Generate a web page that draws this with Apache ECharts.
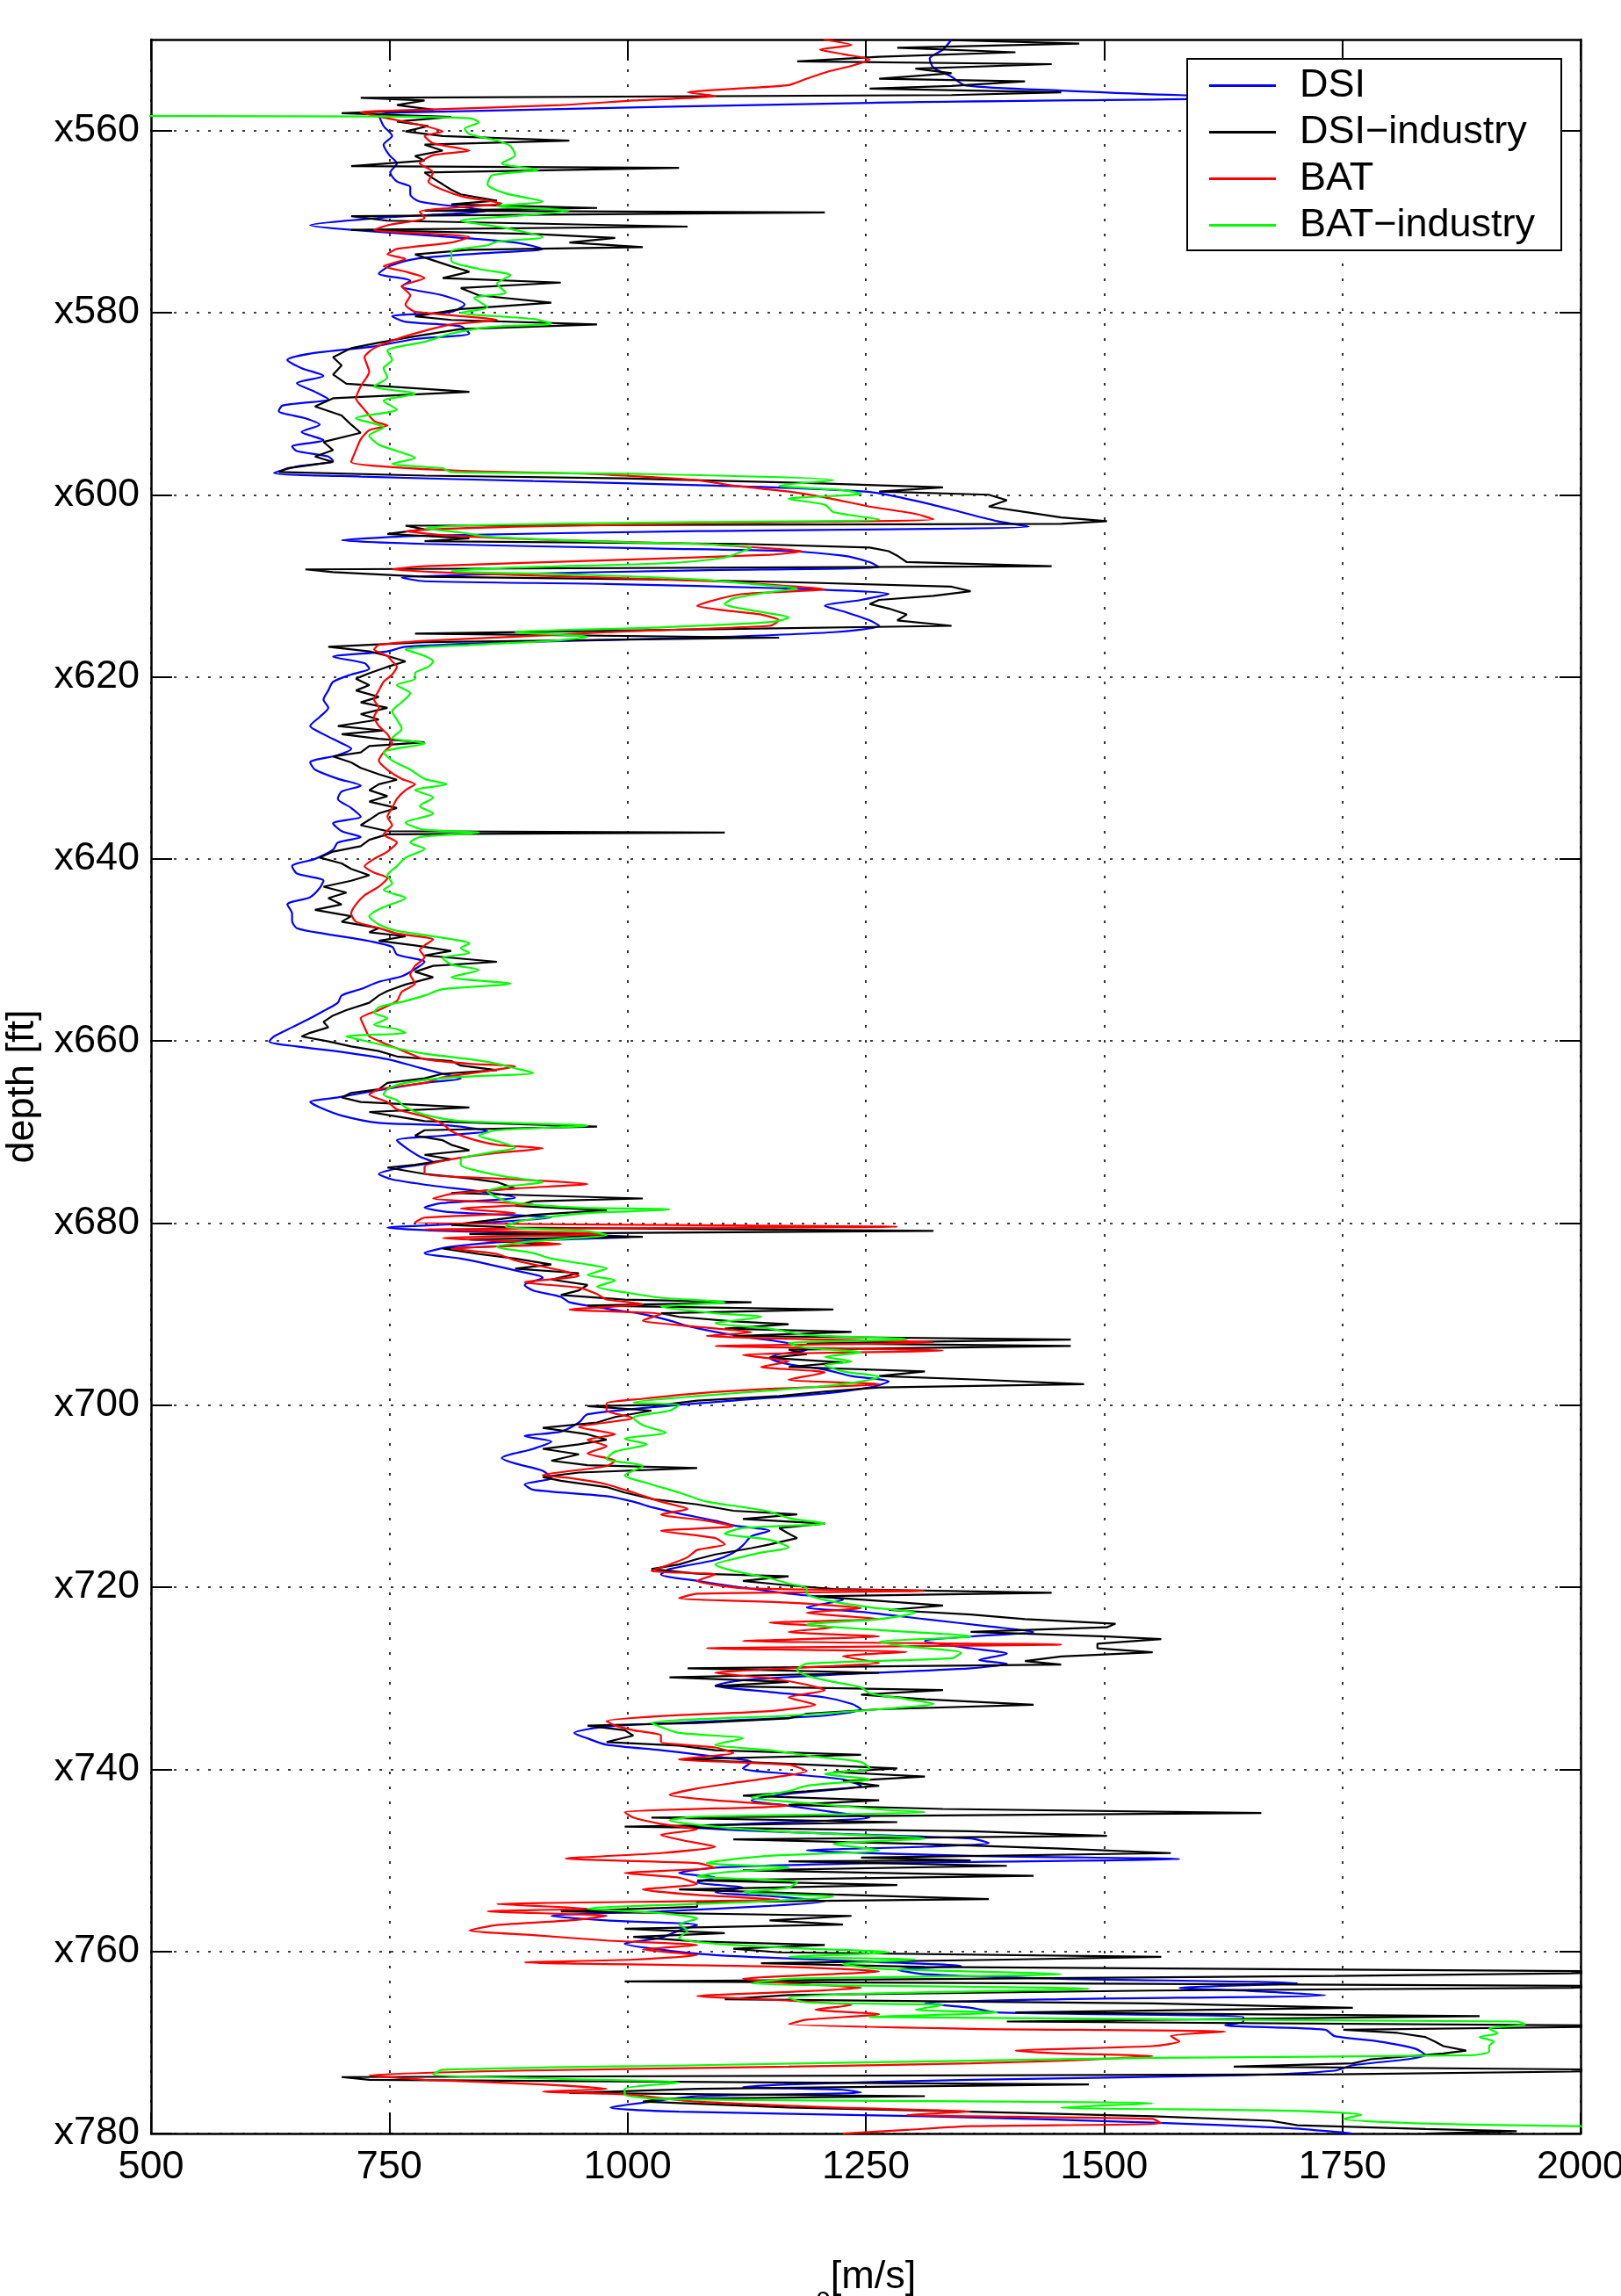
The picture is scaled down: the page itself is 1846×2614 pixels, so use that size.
<!DOCTYPE html>
<html style="height: 100%">
<head>
<meta charset="utf-8">
<script src="https://cdn.jsdelivr.net/npm/echarts@6/dist/echarts.min.js"></script>
</head>
<body style="height: 100%; margin: 0; background: #fff">
<div id="container" style="width: 1846px; height: 2614px"></div>
<script type="text/javascript">

// [depth ft, vp m/s]
var dsiLog = [
    [550.0,1340],[551.1,1331],[552.1,1317],[553.1,1321],[554.1,1340],[555.05,1355],[555.6,1455],[556.1,1579],
    [556.3,1720],[556.95,1255],[557.9,815],[558.3,739],[559.5,744],[560.6,753],[561.55,744],[562.7,750],
    [563.6,758],[564.6,751],[565.6,758],[566.2,772],[567.0,772],[567.8,782],[568.5,834],[568.8,853],
    [569.6,739],[570.4,667],[570.9,710],[571.7,815],[572.3,882],[573.0,911],[573.5,844],[574.1,777],
    [574.9,750],[575.7,739],[576.5,772],[577.1,763],[578.1,806],[579.1,829],[579.9,815],[580.4,753],
    [581.0,767],[581.5,825],[582.3,834],[582.9,777],[583.7,734],[584.5,667],[585.2,643],[586.1,658],
    [586.95,681],[587.75,653],[588.7,672],[589.5,686],[590.2,638],[590.8,634],[591.6,662],[592.3,677],
    [593.1,658],[594.0,681],[594.7,648],[595.2,653],[595.8,686],[596.3,691],[596.9,653],[597.6,629],
    [598.0,720],[598.5,901],[599.0,1092],[599.7,1254],[600.9,1312],[601.9,1350],[602.9,1388],[603.5,1421],
    [604.0,1073],[604.5,787],[605.0,700],[605.4,787],[605.9,1025],[606.2,1169],[606.7,1226],[607.4,1254],
    [607.95,1264],[608.3,1073],[608.8,834],[609.1,763],[609.5,787],[609.8,978],[610.3,1169],[610.9,1274],
    [611.55,1245],[612.2,1207],[612.8,1226],[613.8,1254],[614.4,1264],[615.1,1216],[615.7,1073],[616.2,882],
    [616.7,767],[617.2,748],[617.8,691],[618.5,724],[619.1,729],[619.75,710],[620.55,691],[621.5,686],
    [622.5,681],[623.4,686],[624.4,677],[625.4,667],[626.3,681],[627.3,700],[627.9,710],[628.6,696],
    [629.4,667],[630.2,672],[631.2,696],[631.95,720],[632.6,700],[633.4,696],[634.4,710],[635.35,720],
    [636.1,691],[636.95,700],[637.6,720],[638.2,696],[639.0,691],[640.0,672],[640.8,648],[641.6,653],
    [642.4,681],[643.2,677],[644.2,667],[645.0,643],[646.0,648],[646.8,648],[647.6,653],[648.2,681],
    [648.85,720],[649.65,753],[650.5,758],[651.3,787],[652.1,777],[652.9,763],[653.5,739],[654.3,720],
    [655.0,700],[655.8,696],[656.7,681],[657.5,667],[658.5,648],[659.5,629],[660.05,624],[660.6,653],
    [661.2,700],[662.0,748],[662.8,777],[663.6,806],[664.1,825],[664.6,787],[665.4,739],[666.2,696],
    [666.7,667],[667.3,677],[668.2,700],[669.0,739],[669.3,815],[669.9,853],[670.4,806],[670.9,758],
    [671.7,767],[672.7,782],[673.3,796],[673.9,763],[674.6,739],[675.2,753],[675.9,796],[676.5,844],
    [677.2,882],[677.8,806],[678.3,787],[678.8,815],[679.4,920],[680.05,834],[680.5,748],[680.85,806],
    [681.2,930],[681.5,1006],[682.0,882],[682.6,815],[683.3,787],[683.9,825],[684.5,853],[685.2,882],
    [686.0,911],[686.8,892],[687.4,901],[688.1,930],[688.7,939],[689.4,978],[690.0,1016],[690.7,1044],
    [691.3,1063],[691.95,1092],[692.6,1130],[693.2,1169],[693.9,1188],[694.4,1159],[694.8,1149],[695.5,1169],
    [696.1,1207],[696.8,1235],[697.4,1274],[698.05,1254],[698.7,1207],[699.5,1111],[700.0,1050],[701.0,958],
    [701.9,949],[702.9,930],[703.4,892],[704.0,920],[704.8,901],[705.8,868],[706.4,882],[707.2,911],
    [708.0,920],[708.7,892],[709.3,901],[710.0,978],[710.6,1006],[711.2,1025],[711.9,1054],[712.7,1092],
    [713.2,1111],[713.8,1149],[714.4,1130],[715.4,1121],[716.2,1111],[717.0,1092],[718.0,1044],[718.6,1035],
    [719.3,1073],[719.9,1111],[720.7,1169],[721.4,1226],[722.2,1188],[722.7,1245],[723.5,1312],[724.3,1379],
    [724.9,1426],[725.4,1360],[725.9,1312],[726.7,1360],[727.3,1398],[728.0,1369],[728.4,1398],[728.9,1360],
    [729.6,1216],[730.2,1121],[730.8,1092],[731.5,1149],[732.1,1207],[732.8,1235],[733.4,1245],[734.1,1207],
    [734.7,1092],[735.3,978],[736.0,944],[736.6,958],[737.3,978],[737.9,1035],[738.6,1092],[739.2,1130],
    [739.9,1121],[740.5,1169],[741.1,1226],[741.8,1245],[742.7,1169],[743.4,1130],[744.0,1169],[744.7,1216],
    [745.3,1254],[746.0,1121],[746.3,1054],[746.9,1169],[747.6,1360],[748.1,1379],[748.5,1312],[748.9,1188],
    [749.5,1360],[749.85,1579],[750.3,1264],[750.8,1092],[751.4,1054],[751.9,1092],[752.4,1073],[753.0,1121],
    [753.5,1092],[754.0,1159],[754.5,1207],[755.0,1149],[755.6,1035],[756.1,920],[756.6,978],[757.1,1073],
    [757.7,1054],[758.5,1035],[759.15,997],[759.8,1035],[760.4,1092],[761.1,1245],[761.6,1350],[762.0,1283],
    [762.5,1312],[763.0,1455],[763.5,1703],[764.0,1579],[764.3,1646],[764.8,1732],[765.25,1455],[765.7,1312],
    [766.2,1360],[766.7,1388],[767.2,1646],[767.7,1646],[768.1,1627],[768.6,1732],[769.3,1742],[769.9,1789],
    [770.7,1827],[771.4,1837],[771.85,1818],[772.5,1761],[773.1,1742],[773.6,1646],[774.1,1360],[774.6,1169],
    [774.9,1121],[775.2,1226],[775.5,1245],[775.9,1073],[776.5,1025],[777.15,982],[777.6,1054],[778.1,1312],
    [778.8,1551],[779.4,1694],[779.9,1751],[780.0,1760]
];

var dsiIndustryLog = [
    [550.07,1340],[550.45,1474],[550.9,1283],[551.4,1407],[551.9,1264],[552.4,1178],[552.7,1445],[553.2,1302],
    [553.7,1340],[554.3,1264],[554.6,1417],[555.1,1340],[555.4,1254],[555.8,1455],[556.1,1340],[556.4,720],
    [556.7,787],[557.2,758],[557.7,796],[558.1,700],[558.5,815],[559.0,758],[559.5,791],[560.1,767],
    [560.6,806],[561.1,939],[561.55,787],[562.2,806],[562.8,777],[563.3,787],[563.9,710],[564.1,1054],
    [564.6,787],[565.25,796],[565.9,806],[566.5,815],[567.0,825],[567.7,863],[568.1,815],[568.5,968],
    [568.8,787],[569.0,1207],[569.4,710],[569.9,748],[570.55,1063],[570.9,710],[571.35,901],[571.8,987],
    [572.3,939],[572.8,1016],[573.1,834],[573.6,777],[574.25,796],[574.9,815],[575.5,834],[576.2,806],
    [576.7,930],[577.3,825],[578.1,844],[578.9,920],[579.6,825],[580.4,777],[580.8,815],[581.3,968],
    [581.8,825],[582.6,777],[583.3,739],[583.9,710],[584.9,691],[585.8,700],[586.8,691],[587.8,705],
    [588.7,834],[589.4,691],[590.3,672],[591.3,700],[592.3,710],[593.2,720],[594.2,681],[595.1,691],
    [595.8,672],[596.4,691],[597.1,643],[597.5,634],[597.9,787],[598.2,997],[598.7,1188],[599.2,1331],
    [599.65,1264],[600.0,1379],[600.6,1398],[601.3,1379],[601.9,1417],[602.5,1455],[602.9,1503],[603.2,1455],
    [603.4,767],[603.8,787],[604.3,748],[604.8,834],[605.1,787],[605.4,1121],[605.8,1254],[606.2,1274],
    [606.7,1283],[607.4,1293],[607.85,1445],[608.2,662],[608.5,691],[609.0,787],[609.3,1025],[609.6,1169],
    [610.1,1340],[610.6,1360],[611.1,1321],[611.55,1264],[612.0,1254],[612.5,1274],[613.15,1293],[613.8,1283],
    [614.4,1340],[614.8,1073],[615.25,777],[615.7,1159],[616.2,787],[616.7,686],[617.2,729],[617.7,748],
    [618.3,767],[618.9,748],[619.6,729],[620.2,715],[620.9,729],[621.5,715],[622.2,739],[622.8,720],
    [623.4,748],[624.1,720],[624.7,739],[625.4,696],[625.9,744],[626.3,700],[626.8,739],[627.2,787],
    [627.6,729],[628.3,720],[628.75,691],[629.4,710],[630.0,720],[630.7,739],[631.3,758],[631.8,739],
    [632.45,729],[633.1,748],[633.7,729],[634.4,758],[635.0,739],[635.7,729],[636.3,720],[636.95,748],
    [637.1,1102],[637.3,748],[637.9,729],[638.6,720],[639.2,691],[639.85,677],[640.5,700],[641.1,710],
    [641.8,729],[642.4,710],[643.05,681],[643.7,705],[644.3,686],[645.0,700],[645.6,672],[646.3,710],
    [646.9,700],[647.6,739],[648.05,729],[648.5,767],[649.0,739],[649.5,777],[650.1,815],[650.6,787],
    [651.3,863],[651.75,796],[652.4,777],[653.0,796],[653.8,767],[654.5,748],[655.0,739],[655.8,729],
    [656.6,705],[657.2,691],[657.9,681],[658.5,686],[659.1,667],[659.5,658],[660.05,686],[660.6,710],
    [661.1,739],[661.7,758],[662.2,815],[662.7,825],[663.2,863],[663.6,806],[664.1,787],[664.6,748],
    [665.3,739],[665.7,710],[666.2,700],[666.7,720],[667.3,834],[667.8,729],[668.3,758],[668.8,787],
    [669.4,968],[669.8,787],[670.4,777],[670.9,806],[671.4,815],[672.0,834],[672.5,787],[673.0,815],
    [673.6,777],[673.9,748],[674.6,787],[675.1,834],[675.5,863],[676.2,882],[676.7,815],[677.3,1016],
    [677.6,901],[678.1,882],[678.6,978],[679.1,901],[679.6,863],[680.2,815],[680.5,882],[680.85,1321],
    [681.2,834],[681.5,1016],[681.8,834],[682.3,920],[682.8,806],[683.4,844],[683.9,882],[684.55,920],
    [685.0,882],[685.5,949],[686.2,920],[686.8,958],[687.4,949],[687.9,930],[688.4,997],[688.7,1130],
    [689.05,958],[689.5,1216],[689.9,1035],[690.3,1054],[690.8,1111],[691.1,1169],[691.6,1102],[691.95,1235],
    [692.4,1111],[692.8,1465],[693.2,1188],[693.5,1465],[693.9,1169],[694.4,1188],[694.8,1149],[695.3,1226],
    [695.8,1169],[696.3,1312],[696.8,1264],[697.2,1369],[697.7,1479],[698.05,1264],[698.5,1207],[699.0,1159],
    [699.5,1073],[699.97,1035],[700.1,958],[700.6,1025],[701.3,987],[701.9,968],[702.5,911],[703.2,958],
    [703.8,978],[704.3,949],[704.8,911],[705.4,949],[706.1,920],[706.6,958],[706.9,1073],[707.4,949],
    [707.9,911],[708.3,930],[709.0,978],[709.6,997],[710.3,1025],[710.9,1073],[711.6,1111],[712.0,1178],
    [712.5,1121],[713.0,1207],[713.5,1159],[714.1,1169],[714.6,1178],[715.3,1149],[715.7,1130],[716.4,1092],
    [716.9,1073],[717.5,1054],[718.0,1025],[718.5,1073],[718.8,1169],[719.3,1121],[719.8,1169],[720.2,1216],
    [720.6,1445],[721.0,1197],[721.5,1264],[722.0,1331],[722.5,1274],[723.0,1360],[723.5,1417],[724.0,1512],
    [724.4,1503],[724.9,1360],[725.4,1503],[725.7,1560],[726.2,1493],[726.7,1493],[727.15,1551],[727.6,1455],
    [728.1,1417],[728.5,1455],[728.9,1063],[729.4,1264],[729.9,1044],[730.4,1169],[730.85,1092],[731.3,1331],
    [731.8,1245],[732.3,1312],[732.9,1426],[733.4,1264],[733.9,1188],[734.4,1169],[734.9,1073],[735.2,958],
    [735.7,997],[736.3,1006],[737.0,978],[737.4,1054],[737.9,1092],[738.4,1245],[738.9,1054],[739.4,1169],
    [739.9,1283],[740.3,1216],[740.8,1312],[741.3,1226],[741.8,1264],[742.4,1188],[742.9,1121],[743.4,1264],
    [743.9,1169],[744.35,1331],[744.8,1665],[745.3,1025],[745.8,1283],[746.3,997],[746.8,1360],[747.3,1503],
    [747.7,1111],[748.2,1312],[748.7,1455],[749.2,1570],[749.7,1245],[750.0,1360],[750.1,1169],[750.6,1398],
    [751.1,1121],[751.7,1426],[752.2,1073],[752.7,1283],[753.2,1054],[753.75,1216],[754.25,1379],[754.6,1073],
    [755.1,1073],[755.6,930],[756.1,1235],[756.6,1149],[757.05,1226],[757.5,997],[758.0,1102],[758.4,1006],
    [758.9,1073],[759.3,1207],[759.7,1111],[760.1,1159],[760.6,1560],[760.9,1398],[761.3,1140],[761.7,1312],
    [762.2,2050],[762.4,1990],[762.7,1742],[763.3,997],[763.8,2050],[764.0,1990],[764.3,1551],[764.8,1169],
    [765.25,1102],[765.7,1551],[766.2,1761],[766.7,1407],[767.1,1894],[767.7,1398],[768.15,2050],[768.3,2000],
    [768.6,1751],[768.95,1808],[769.4,1837],[769.9,1847],[770.4,1856],[770.9,1880],[771.2,1856],[771.85,1780],
    [772.3,1761],[772.65,1636],[773.0,2050],[773.2,1990],[773.5,1742],[773.8,700],[774.1,729],[774.6,1484],
    [775.1,1073],[775.55,939],[775.9,1312],[776.2,1035],[776.5,1016],[777.15,1169],[777.6,1360],[778.1,1551],
    [778.6,1675],[779.1,1703],[779.5,1837],[779.75,1933],[780.0,1837]
];

var batLog = [
    [550.0,1206],[550.6,1235],[551.1,1202],[551.6,1226],[552.2,1254],[552.9,1235],[553.5,1211],[554.3,1188],
    [555.0,1169],[555.3,1130],[555.8,1063],[556.2,1092],[556.7,1006],[557.2,930],[557.7,787],[558.0,720],
    [558.65,748],[559.5,787],[560.1,806],[560.6,787],[561.4,796],[562.2,834],[562.7,796],[563.6,782],
    [564.6,796],[565.6,791],[566.5,806],[567.3,829],[568.0,868],[568.5,815],[568.9,782],[569.6,787],
    [570.4,748],[570.9,734],[571.7,834],[572.3,815],[573.0,758],[573.6,748],[574.1,767],[574.9,744],
    [575.5,767],[576.2,787],[577.1,763],[578.1,772],[579.1,767],[579.9,777],[580.8,863],[581.3,815],
    [582.0,787],[582.9,758],[583.9,734],[584.9,724],[586.5,729],[588.1,720],[589.4,715],[590.65,724],
    [591.9,734],[592.4,748],[592.9,729],[593.9,720],[595.1,715],[596.4,710],[596.9,744],[597.4,834],
    [597.7,958],[598.4,1073],[599.0,1111],[599.65,1169],[600.3,1207],[601.3,1254],[602.1,1302],[602.7,1321],
    [603.0,1169],[603.5,882],[604.0,767],[604.5,815],[605.0,930],[605.4,1073],[605.9,1149],[606.2,1183],
    [606.6,1149],[607.2,978],[607.85,787],[608.2,753],[608.65,834],[609.1,978],[609.6,1111],[610.1,1178],
    [610.4,1207],[610.9,1121],[611.55,1092],[612.2,1073],[612.7,1102],[613.15,1140],[613.8,1159],[614.4,1149],
    [615.1,978],[615.6,882],[616.05,787],[616.5,739],[617.0,734],[617.7,748],[618.3,753],[618.9,758],
    [619.75,753],[620.55,744],[621.5,739],[622.5,734],[623.4,739],[624.4,734],[625.4,739],[626.3,748],
    [627.3,753],[628.3,744],[629.2,739],[630.2,748],[631.2,763],[631.8,777],[632.45,767],[633.4,758],
    [634.4,753],[635.35,748],[636.3,753],[637.3,744],[638.2,758],[639.2,748],[640.0,734],[640.8,724],
    [641.5,734],[642.1,748],[643.05,739],[644.0,724],[645.0,715],[646.0,710],[646.9,715],[647.6,739],
    [648.2,758],[648.85,796],[649.5,787],[650.0,782],[650.8,787],[651.75,777],[652.7,772],[653.7,777],
    [654.6,763],[655.6,758],[656.6,739],[657.5,720],[658.5,724],[659.5,729],[660.4,748],[661.2,767],
    [662.0,787],[662.5,834],[662.8,882],[663.3,853],[664.0,806],[664.6,787],[665.3,739],[665.9,729],
    [666.7,748],[667.5,758],[668.3,787],[669.1,806],[669.9,815],[670.7,834],[671.4,863],[671.8,911],
    [672.3,863],[673.0,815],[673.8,787],[674.6,787],[675.2,882],[675.7,958],[676.2,882],[676.8,815],
    [677.3,796],[677.95,901],[678.4,825],[678.9,882],[679.4,787],[679.9,777],[680.4,1283],[680.7,787],
    [681.2,978],[681.65,806],[682.3,930],[682.8,815],[683.4,863],[684.1,882],[684.55,901],[685.2,930],
    [685.8,949],[686.5,892],[687.1,949],[687.8,968],[688.4,978],[688.9,1016],[689.5,939],[690.0,1035],
    [690.7,1016],[691.3,1063],[692.0,1130],[692.4,1083],[693.1,1321],[693.5,1092],[694.0,1331],[694.5,1121],
    [695.2,1169],[695.8,1140],[696.4,1207],[697.2,1169],[697.7,1264],[698.2,1149],[698.7,1073],[699.3,1016],
    [699.8,978],[700.6,978],[701.4,1006],[702.4,949],[703.2,987],[703.8,958],[704.5,978],[705.3,958],
    [706.1,987],[706.7,978],[707.7,911],[708.0,939],[708.7,978],[709.6,1006],[710.6,1035],[711.4,1063],
    [712.0,1035],[712.7,1083],[713.3,1111],[713.8,1035],[714.6,1092],[715.3,1102],[715.9,1073],[716.7,1063],
    [717.5,1044],[718.2,1025],[718.6,1092],[719.3,1073],[720.1,1121],[720.4,1312],[720.7,1073],[721.2,1054],
    [721.7,1169],[722.3,1245],[722.8,1188],[723.5,1264],[723.9,1149],[724.4,1216],[724.9,1169],[725.4,1264],
    [725.9,1121],[726.3,1455],[726.7,1083],[727.1,1293],[727.6,1226],[728.3,1264],[728.9,1169],[729.4,1092],
    [730.0,1149],[730.7,1188],[731.3,1207],[732.1,1169],[732.9,1197],[733.6,1149],[734.1,1044],[734.7,978],
    [735.2,987],[735.7,1006],[736.3,1035],[737.0,1035],[737.6,1092],[738.2,1111],[738.9,1054],[739.5,1169],
    [740.2,1188],[740.8,1159],[741.5,1111],[742.1,1073],[742.8,1044],[743.4,1092],[744.0,1169],[744.7,997],
    [745.3,1006],[746.0,1035],[746.6,1073],[747.2,1035],[747.9,1063],[748.5,1092],[749.2,1035],[749.8,935],
    [750.3,1073],[750.8,1092],[751.4,997],[751.9,1054],[752.6,1073],[753.2,1016],[753.8,1073],[754.3,1159],
    [754.8,863],[755.3,958],[755.6,853],[756.1,978],[756.6,939],[757.1,863],[757.7,834],[758.2,901],
    [758.8,978],[759.3,1073],[759.8,1016],[760.4,1073],[760.9,1006],[761.2,892],[761.7,1169],[762.2,1264],
    [762.7,1169],[763.0,1121],[763.5,1169],[764.0,1245],[764.45,1169],[764.9,1073],[765.4,1169],[765.9,1235],
    [766.4,1197],[766.9,1264],[767.5,1188],[768.0,1169],[768.5,1360],[768.8,1627],[769.3,1570],[769.9,1579],
    [770.4,1551],[770.9,1407],[771.2,1455],[771.5,1551],[772.0,1455],[772.3,1360],[772.65,1169],[773.1,882],
    [773.6,729],[774.1,787],[774.6,911],[775.1,978],[775.4,911],[775.7,997],[776.5,1073],[777.15,1216],
    [777.6,1360],[777.95,1293],[778.4,1551],[778.9,1560],[779.2,1360],[779.6,1293],[780.0,1226]
];

var batIndustryLog = [
    [558.4,300],[558.45,740],[558.65,834],[559.1,844],[559.8,829],[560.4,834],[561.1,863],[561.7,877],
    [562.7,882],[563.6,868],[564.3,906],[564.9,858],[565.9,853],[566.9,872],[567.8,911],[568.3,863],
    [568.8,939],[569.3,892],[569.9,825],[570.7,872],[571.7,911],[572.2,863],[572.6,853],[573.3,815],
    [574.3,815],[575.2,844],[575.9,877],[576.8,863],[577.8,872],[578.4,839],[579.4,853],[580.0,825],
    [580.7,901],[581.2,920],[581.6,853],[582.3,815],[583.2,787],[584.2,748],[585.2,753],[586.1,744],
    [587.1,748],[588.1,734],[588.9,777],[589.7,744],[590.65,758],[591.6,715],[592.6,744],[593.5,729],
    [594.5,739],[595.2,758],[595.95,777],[596.6,753],[597.1,806],[597.5,815],[597.7,1006],[598.4,1216],
    [599.0,1159],[599.5,1226],[599.9,1245],[600.45,1169],[601.1,1207],[601.9,1216],[602.7,1264],[603.0,1073],
    [603.35,834],[603.7,787],[604.15,825],[604.6,853],[605.1,958],[605.4,1073],[605.8,1130],[606.2,1121],
    [606.9,1102],[607.5,1044],[608.0,882],[608.4,815],[608.8,958],[609.3,1073],[609.8,1130],[610.3,1178],
    [610.7,1149],[611.4,1111],[612.0,1102],[612.7,1130],[613.5,1169],[614.0,1149],[614.6,1025],[615.1,882],
    [615.6,958],[616.05,920],[616.5,834],[617.0,767],[617.7,787],[618.3,796],[618.9,791],[619.6,777],
    [620.2,777],[620.9,758],[621.8,772],[622.8,763],[623.8,753],[624.7,758],[625.7,763],[626.7,753],
    [627.3,787],[628.3,744],[629.2,753],[630.2,772],[631.2,787],[631.8,810],[632.45,777],[633.25,796],
    [634.2,782],[635.0,796],[636.0,767],[636.8,787],[637.1,844],[637.6,782],[638.2,772],[638.9,787],
    [639.85,767],[640.8,758],[641.8,748],[642.7,753],[643.4,744],[644.3,767],[645.3,744],[646.3,729],
    [647.2,739],[647.9,758],[648.5,796],[649.3,834],[649.8,825],[650.3,834],[650.9,806],[651.6,815],
    [652.2,844],[653.0,815],[653.7,877],[654.3,806],[655.0,787],[655.6,767],[656.3,739],[656.9,734],
    [657.5,748],[658.2,734],[658.7,758],[659.1,767],[659.5,705],[660.1,729],[660.8,758],[661.4,787],
    [662.0,834],[662.5,863],[663.0,882],[663.5,901],[664.0,815],[664.6,767],[665.3,748],[665.9,744],
    [666.5,758],[667.3,767],[668.1,787],[668.8,825],[669.3,958],[669.8,863],[670.4,844],[671.0,863],
    [671.7,882],[672.3,853],[673.0,825],[673.6,825],[674.3,844],[674.9,872],[675.5,911],[676.0,872],
    [676.5,853],[677.2,863],[677.8,882],[678.3,949],[678.5,1044],[678.9,958],[679.4,911],[679.9,882],
    [680.4,872],[680.9,958],[681.3,978],[682.0,901],[682.6,863],[683.3,901],[683.9,920],[684.55,958],
    [685.0,978],[685.7,958],[686.3,987],[687.0,968],[687.6,997],[688.2,1035],[688.7,1102],[689.2,1035],
    [689.9,1092],[690.3,1140],[691.0,1092],[691.6,1149],[692.3,1188],[692.75,1293],[693.2,1169],[693.7,1188],
    [694.2,1245],[694.7,1207],[695.2,1235],[695.6,1207],[696.3,1226],[696.9,1264],[697.4,1245],[697.9,1207],
    [698.4,1149],[699.0,1073],[699.7,1006],[700.0,1054],[700.6,1044],[701.4,1006],[702.2,1016],[703.0,1040],
    [703.7,997],[704.3,1020],[705.1,987],[705.9,978],[706.7,1016],[707.7,997],[708.7,1025],[709.6,1054],
    [710.6,1083],[711.2,1121],[711.7,1149],[712.4,1169],[713.0,1207],[713.5,1121],[714.1,1102],[714.8,1149],
    [715.6,1169],[716.2,1140],[716.9,1111],[717.5,1092],[718.2,1111],[719.0,1149],[719.6,1169],[720.1,1188],
    [720.7,1188],[721.4,1207],[722.2,1254],[722.8,1302],[723.5,1264],[724.1,1188],[724.7,1264],[725.4,1360],
    [726.0,1264],[726.5,1293],[727.2,1350],[727.8,1340],[728.4,1188],[729.1,1178],[729.7,1188],[730.4,1216],
    [731.0,1245],[731.65,1254],[732.3,1293],[732.8,1321],[733.4,1264],[734.1,1169],[734.5,1073],[734.9,1025],
    [735.35,1035],[736.0,1054],[736.6,1121],[737.3,1092],[737.9,1149],[738.6,1197],[739.2,1245],[739.9,1254],
    [740.5,1207],[741.1,1254],[741.8,1188],[742.4,1169],[743.1,1130],[743.7,1188],[744.4,1264],[744.7,1312],
    [745.2,1073],[745.6,1044],[746.3,1092],[746.9,1169],[747.6,1312],[748.2,1216],[748.9,1264],[749.5,1149],
    [750.0,1100],[750.3,1083],[750.8,1169],[751.3,1102],[751.75,1073],[752.4,1178],[753.0,1169],[753.5,1121],
    [754.0,1216],[754.6,1121],[755.3,958],[755.8,1035],[756.4,1073],[757.05,1054],[757.7,1063],[758.5,1054],
    [759.15,1092],[759.6,1169],[760.1,1274],[760.6,1169],[760.9,1302],[761.4,1226],[761.9,1264],[762.5,1455],
    [763.0,1169],[763.5,1130],[764.1,1484],[764.6,1264],[765.1,1169],[765.6,1188],[765.9,1331],[766.4,1302],
    [766.7,1388],[767.2,1254],[767.7,1933],[768.0,1942],[768.5,1904],[769.0,1913],[769.4,1894],[769.9,1909],
    [770.4,1904],[771.0,1904],[771.4,1885],[771.7,1551],[772.0,1360],[772.5,1073],[773.0,806],[773.5,796],
    [774.0,930],[774.4,1054],[775.1,997],[775.7,997],[776.2,1035],[776.7,1551],[777.15,1455],[777.5,1694],
    [777.95,1770],[778.4,1751],[778.9,1837],[779.2,2000],[779.4,2100]
];

var seriesNames = ['DSI', 'DSI\u2212industry', 'BAT', 'BAT\u2212industry'];
var seriesColors = ['#0000ff', '#000000', '#ff0000', '#00ff00'];
var seriesSmooth = [0.25, false, 0.2, 0.25];   // the tool logs are smooth curves, the industry DSI is spiky
var depthTicks = [560, 580, 600, 620, 640, 660, 680, 700, 720, 740, 760, 780];

function toXY(log) {
    // log rows are [depth, velocity]; plot velocity on x, depth on y
    return log.map(function (r) { return [r[1], r[0]]; });
}

var FONT = 'Liberation Sans';
var logs = [dsiLog, dsiIndustryLog, batLog, batIndustryLog];

var dom = document.getElementById('container');
var myChart = echarts.init(dom);

var option = {
    backgroundColor: '#fff',
    animation: false,
    grid: { left: 172, right: 46, top: 45, bottom: 185, outerBoundsMode: 'none', containLabel: false },
    legend: {
        data: seriesNames,
        orient: 'vertical',
        left: 1352,
        top: 67,
        icon: 'rect',
        itemWidth: 76,
        itemHeight: 3,
        itemGap: 8,
        padding: [8, 30, 6, 25],
        backgroundColor: '#fff',
        borderColor: '#000',
        borderWidth: 2,
        textStyle: { color: '#000', fontSize: 45, fontFamily: FONT, lineHeight: 45, padding: [0, 0, 0, 22] }
    },
    xAxis: [
        {
            type: 'value', position: 'bottom', min: 500, max: 2000, interval: 250,
            name: '{sub|\u03c1}{main|[m/s]}',
            nameLocation: 'middle', nameGap: 141,
            nameTextStyle: {
                verticalAlign: 'top',
                rich: {
                    main: { fontSize: 45, fontFamily: FONT, color: '#000', verticalAlign: 'top' },
                    sub: { fontSize: 30, fontFamily: FONT, color: '#000', verticalAlign: 'top', padding: [32, 0, 0, 0] }
                }
            },
            axisLine: { onZero: false, lineStyle: { color: '#000', width: 2.5 } },
            axisTick: { inside: true, length: 24, lineStyle: { color: '#000', width: 2 } },
            axisLabel: {
                color: '#000', fontSize: 45, fontFamily: FONT, margin: 16,
                showMinLabel: true, showMaxLabel: true,
                formatter: function (v) { return String(v); }
            },
            splitLine: { show: true, lineStyle: { color: '#000', width: 1.6, type: [3, 14] } }
        },
        {
            type: 'value', position: 'top', min: 500, max: 2000, interval: 250,
            axisLine: { onZero: false, lineStyle: { color: '#000', width: 2.5 } },
            axisTick: { inside: true, length: 24, lineStyle: { color: '#000', width: 2 } },
            axisLabel: { show: false },
            splitLine: { show: false }
        }
    ],
    yAxis: [
        {
            type: 'value', position: 'left', inverse: true, min: 550, max: 780,
            name: 'depth [ft]', nameLocation: 'middle', nameGap: 124,
            nameTextStyle: { fontSize: 45, fontFamily: FONT, color: '#000' },
            axisLine: { onZero: false, lineStyle: { color: '#000', width: 2.5 } },
            axisTick: { inside: true, length: 24, customValues: depthTicks, lineStyle: { color: '#000', width: 2 } },
            axisLabel: {
                color: '#000', fontSize: 45, fontFamily: FONT, margin: 13,
                customValues: depthTicks,
                formatter: function (v) { return 'x' + v; }
            },
            splitLine: { show: true, customValues: depthTicks, lineStyle: { color: '#000', width: 1.6, type: [3, 10] } }
        },
        {
            type: 'value', position: 'right', inverse: true, min: 550, max: 780,
            axisLine: { onZero: false, lineStyle: { color: '#000', width: 2.5 } },
            axisTick: { inside: true, length: 24, customValues: depthTicks, lineStyle: { color: '#000', width: 2 } },
            axisLabel: { show: false },
            splitLine: { show: false }
        }
    ],
    series: logs.map(function (log, i) {
        return {
            name: seriesNames[i],
            type: 'line',
            xAxisIndex: 0,
            yAxisIndex: 0,
            data: toXY(log),
            showSymbol: false,
            symbol: 'none',
            smooth: seriesSmooth[i],
            clip: true,
            color: seriesColors[i],
            lineStyle: { color: seriesColors[i], width: 2.2 },
            z: 2 + i
        };
    })
};

myChart.setOption(option);

</script>
</body>
</html>
